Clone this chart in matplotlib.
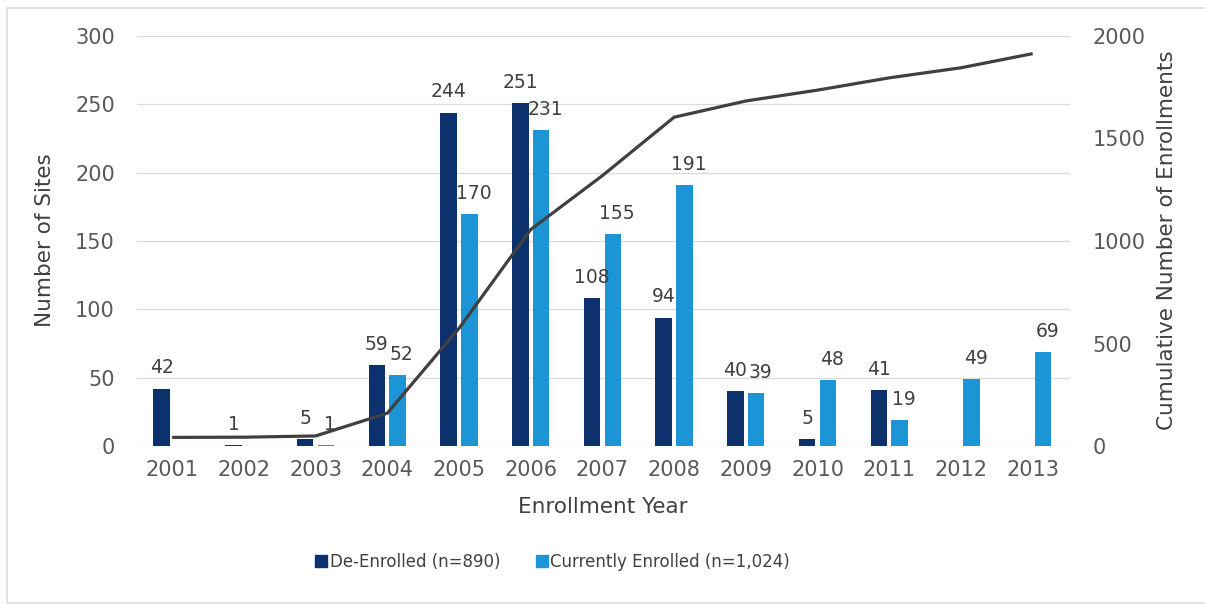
import matplotlib
matplotlib.use("Agg")
import matplotlib.pyplot as plt
from matplotlib.patches import Rectangle
from matplotlib.lines import Line2D
import numpy as np

plt.rcParams['font.family'] = ['DejaVu Sans']

years = ['2001', '2002', '2003', '2004', '2005', '2006', '2007',
         '2008', '2009', '2010', '2011', '2012', '2013']
de_enrolled = [42, 1, 5, 59, 244, 251, 108, 94, 40, 5, 41, 0, 0]
currently_enrolled = [0, 0, 1, 52, 170, 231, 155, 191, 39, 48, 19, 49, 69]
cumulative = [42, 43, 49, 160, 574, 1056, 1319, 1604, 1683, 1736, 1796, 1845, 1914]

dark_blue = '#0c316c'
light_blue = '#1b95d6'
line_grey = '#404040'
text_grey = '#595959'

fig = plt.figure(figsize=(12.05, 6.06), dpi=100)
fig.patch.set_facecolor('white')

# light frame around the whole chart
fig.add_artist(Rectangle((7 / 1205, 1 - 603 / 606), 1.2, (603 - 8) / 606,
                         transform=fig.transFigure, fill=False,
                         edgecolor='#dcdcdc', linewidth=1.2))

ax = fig.add_axes([137 / 1205, 1 - 446 / 606, (1070 - 137) / 1205, (446 - 36) / 606])
x = np.arange(len(years))
w = 0.23
off = 0.145

ax.bar(x - off, de_enrolled, width=w, color=dark_blue, zorder=2)
ax.bar(x + off, currently_enrolled, width=w, color=light_blue, zorder=2)

for xi, v in zip(x, de_enrolled):
    if v > 0:
        ax.annotate(str(v), (xi - off, v), xytext=(0, 8), textcoords='offset points',
                    ha='center', va='bottom', fontsize=13.5, color='#404040')
for xi, v in zip(x, currently_enrolled):
    if v > 0:
        ax.annotate(str(v), (xi + off, v), xytext=(3, 8), textcoords='offset points',
                    ha='center', va='bottom', fontsize=13.5, color='#404040')

ax.set_xlim(-0.49, 12.52)
ax.set_ylim(0, 300)
ax.set_yticks(range(0, 301, 50))
ax.set_xticks(x)
ax.set_xticklabels(years)
ax.grid(axis='y', color='#dcdcdc', linewidth=1, zorder=0)
ax.set_axisbelow(True)
for s in ax.spines.values():
    s.set_visible(False)
ax.tick_params(axis='both', length=0, labelsize=15, colors=text_grey)
ax.tick_params(axis='y', pad=16)
ax.tick_params(axis='x', pad=10)

ax2 = ax.twinx()
ax2.plot(x, cumulative, color=line_grey, linewidth=2.3, zorder=3,
         solid_capstyle='butt')
ax2.set_ylim(0, 2000)
ax2.set_yticks(range(0, 2001, 500))
for s in ax2.spines.values():
    s.set_visible(False)
ax2.tick_params(axis='y', length=0, labelsize=15, colors=text_grey, pad=16)

fig.text(45 / 1205, 1 - 240 / 606, 'Number of Sites', rotation=90,
         ha='center', va='center', fontsize=15.5, color='#404040')
fig.text(1167 / 1205, 1 - 240 / 606, 'Cumulative Number of Enrollments', rotation=90,
         ha='center', va='center', fontsize=15.5, color='#404040')
fig.text(603 / 1205, 1 - 507 / 606, 'Enrollment Year',
         ha='center', va='center', fontsize=15.5, color='#404040')

handles = [Line2D([], [], marker='s', linestyle='none', markersize=8,
                  markerfacecolor=dark_blue, markeredgecolor=dark_blue),
           Line2D([], [], marker='s', linestyle='none', markersize=8,
                  markerfacecolor=light_blue, markeredgecolor=light_blue)]
fig.legend(handles, ['De-Enrolled (n=890)', 'Currently Enrolled (n=1,024)'],
           loc='center', bbox_to_anchor=(553 / 1205, 1 - 562 / 606), ncol=2,
           frameon=False, fontsize=12, labelcolor='#404040',
           handlelength=0.6, handletextpad=0.2, columnspacing=2.2)

fig.savefig('out.png', dpi=100, facecolor='white')
